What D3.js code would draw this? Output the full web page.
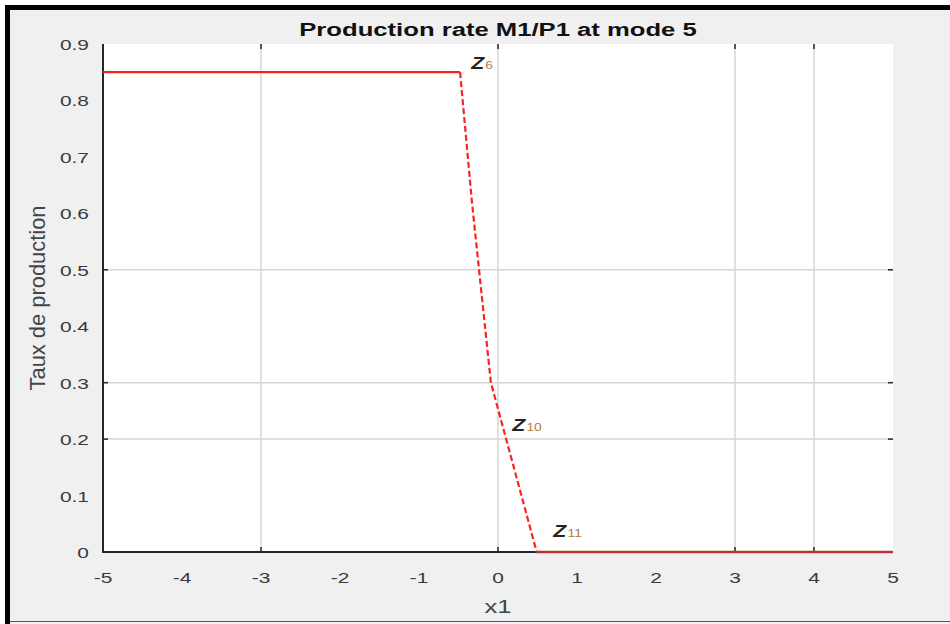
<!DOCTYPE html>
<html><head><meta charset="utf-8">
<script src="https://cdn.jsdelivr.net/npm/d3@7"></script>
<style>html,body{margin:0;padding:0;background:#fff;}svg{display:block;}</style>
</head><body>
<svg id="chart" width="950" height="624"></svg>
<script>
const titleText = "Production rate M1/P1 at mode 5";
const xLabel = "x1";
const yLabel = "Taux de production";
const xTicks = [-5,-4,-3,-2,-1,0,1,2,3,4,5];
const yTicks = [0,0.1,0.2,0.3,0.4,0.5,0.6,0.7,0.8,0.9];
const xGrid = [-3,0,3,4];
const yGrid = [0.2,0.3,0.5];
// curve: flat, dashed drop, flat
const flatTopX = [-5,-0.48];
const flatTopY = [0.85,0.85];
const dropX = [-0.48,-0.33,-0.09,0.49];
const dropY = [0.85,0.62,0.30,0];
const flatBotX = [0.49,5];
const flatBotY = [0,0];
const annotNames = ["Z","Z","Z"];
const annotSubs = ["6","10","11"];
const annotX = [-0.34,0.18,0.70];
const annotY = [0.855,0.215,0.027];

const svg = d3.select("#chart");
const W = 950, H = 624;
const m = {left:103, right:893, top:44, bottom:552};
const x = d3.scaleLinear().domain([-5,5]).range([m.left,m.right]);
const y = d3.scaleLinear().domain([0,0.9]).range([m.bottom,m.top]);
const SX = 1.35;

// figure background & frame
svg.append("rect").attr("x",0).attr("y",0).attr("width",W).attr("height",H).attr("fill","#fff");
svg.append("rect").attr("x",5).attr("y",5).attr("width",W-5).attr("height",H-5).attr("fill","#f0f0f0");
svg.append("rect").attr("x",5).attr("y",5).attr("width",W-5).attr("height",5).attr("fill","#000");
svg.append("rect").attr("x",5).attr("y",5).attr("width",5).attr("height",H-5).attr("fill","#000");
svg.append("line").attr("x1",10).attr("x2",W).attr("y1",621.5).attr("y2",621.5).attr("stroke","#555").attr("stroke-width",1);

// plot area
svg.append("rect").attr("x",m.left).attr("y",m.top).attr("width",m.right-m.left).attr("height",m.bottom-m.top).attr("fill","#fff");

// grid
const g = svg.append("g");
g.selectAll(".gx").data(xGrid).join("line")
 .attr("x1",d=>x(d)).attr("x2",d=>x(d)).attr("y1",m.top).attr("y2",m.bottom)
 .attr("stroke","#d6d6d6").attr("stroke-width",1.5);
g.selectAll(".gy").data(yGrid).join("line")
 .attr("y1",d=>y(d)).attr("y2",d=>y(d)).attr("x1",m.left).attr("x2",m.right)
 .attr("stroke","#d6d6d6").attr("stroke-width",1.5);

// tick marks (inward) on all four sides, only at grid positions
const tk = 5, axc = "#262626";
g.selectAll(".tb").data(xGrid).join("line").attr("x1",d=>x(d)).attr("x2",d=>x(d)).attr("y1",m.bottom).attr("y2",m.bottom-tk).attr("stroke",axc).attr("stroke-width",1.5);
g.selectAll(".tt").data(xGrid).join("line").attr("x1",d=>x(d)).attr("x2",d=>x(d)).attr("y1",m.top).attr("y2",m.top+tk).attr("stroke",axc).attr("stroke-width",1.5);
g.selectAll(".tl").data(yGrid).join("line").attr("y1",d=>y(d)).attr("y2",d=>y(d)).attr("x1",m.left).attr("x2",m.left+tk).attr("stroke",axc).attr("stroke-width",1.5);
g.selectAll(".tr").data(yGrid).join("line").attr("y1",d=>y(d)).attr("y2",d=>y(d)).attr("x1",m.right).attr("x2",m.right-tk).attr("stroke",axc).attr("stroke-width",1.5);

// axes lines
svg.append("line").attr("x1",m.left).attr("x2",m.left).attr("y1",m.top).attr("y2",m.bottom+1).attr("stroke",axc).attr("stroke-width",2);
svg.append("line").attr("x1",m.left).attr("x2",m.right).attr("y1",m.bottom).attr("y2",m.bottom).attr("stroke",axc).attr("stroke-width",2);

// tick labels
const fontF = "'Liberation Sans', Arial, sans-serif";
svg.selectAll(".xl").data(xTicks).join("text")
 .attr("transform",d=>`translate(${x(d)},583) scale(${SX},1)`)
 .attr("text-anchor","middle").attr("font-family",fontF).attr("font-size",15.5).attr("fill","#3a3a3a")
 .text(d=>String(d));
svg.selectAll(".yl").data(yTicks).join("text")
 .attr("transform",d=>`translate(89,${y(d)+6}) scale(${SX},1)`)
 .attr("text-anchor","end").attr("font-family",fontF).attr("font-size",15.5).attr("fill","#3a3a3a")
 .text(d=>d===0?"0":d3.format(".1f")(d));

// title and axis labels
svg.append("text").attr("transform",`translate(498,36) scale(${SX},1)`).attr("text-anchor","middle")
 .attr("font-family",fontF).attr("font-size",19).attr("font-weight","bold").attr("fill","#111").text(titleText);
svg.append("text").attr("transform",`translate(498,613) scale(${SX},1)`).attr("text-anchor","middle")
 .attr("font-family",fontF).attr("font-size",19).attr("fill","#444").text(xLabel);
svg.append("text").attr("transform",`translate(45,298) rotate(-90) scale(1,${SX})`).attr("text-anchor","middle")
 .attr("font-family",fontF).attr("font-size",17).attr("fill","#444")
 .attr("textLength",185).attr("lengthAdjust","spacingAndGlyphs").text(yLabel);

// curve
const line = d3.line().x(d=>x(d[0])).y(d=>y(d[1]));
svg.append("path").attr("d",line(d3.zip(flatTopX,flatTopY))).attr("fill","none").attr("stroke","#ff2020").attr("stroke-width",2.2);
svg.append("path").attr("d",line(d3.zip(dropX,dropY))).attr("fill","none").attr("stroke","#ff2020").attr("stroke-width",2.2).attr("stroke-dasharray","6,3");
svg.append("path").attr("d",line(d3.zip(flatBotX,flatBotY))).attr("fill","none").attr("stroke","#b83232").attr("stroke-width",2.5);

// annotations
const ann = svg.selectAll(".ann").data(annotNames.map((n,i)=>({n,s:annotSubs[i],x:annotX[i],y:annotY[i]}))).join("text")
 .attr("transform",d=>`translate(${x(d.x)},${y(d.y)}) scale(1.25,1)`)
 .attr("font-family",fontF).attr("font-size",17).attr("fill","#222");
ann.append("tspan").attr("font-style","italic").attr("font-weight","bold").text(d=>d.n);
ann.append("tspan").attr("font-size",11).attr("fill","#b07a3a").attr("dx",1).text(d=>d.s);
</script>
</body></html>
